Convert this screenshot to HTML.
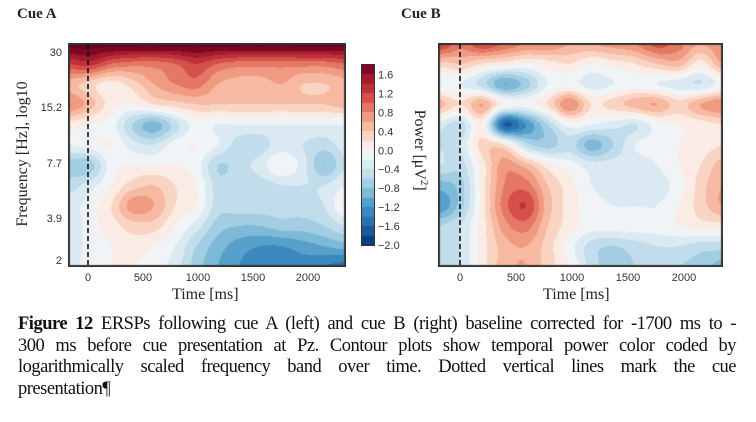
<!DOCTYPE html>
<html><head><meta charset="utf-8">
<style>
body{margin:0;width:756px;height:422px;background:#fff;position:relative;overflow:hidden;font-family:"Liberation Sans",sans-serif;}
.abs{position:absolute;}
.title{font-family:"Liberation Serif",serif;font-weight:bold;font-size:15px;color:#222;}
.axl{font-family:"Liberation Serif",serif;font-size:16px;color:#222;position:absolute;white-space:nowrap;}
#caption{position:absolute;left:18px;top:314px;width:718px;font-family:"Liberation Serif",serif;font-size:18.5px;line-height:21.5px;color:#111;letter-spacing:-0.5px;}
#caption div{text-align:justify;text-align-last:justify;white-space:nowrap;}
#caption div.last{text-align-last:left;}
canvas{position:absolute;}
</style></head><body>
<div class="abs title" style="left:17px;top:6px">Cue A</div>
<div class="abs title" style="left:401px;top:6px">Cue B</div>
<canvas id="cA" width="278" height="224" style="left:68px;top:43px"></canvas>
<canvas id="cB" width="285" height="224" style="left:438px;top:43px"></canvas>
<canvas id="cbar" width="12" height="180" style="left:362px;top:65px;outline:1px solid #333"></canvas>
<div class="axl" style="left:-62px;top:145px;transform:rotate(-90deg);width:170px;text-align:center">Frequency [Hz], log10</div>
<div class="axl" style="left:350px;top:140px;transform:rotate(90deg);width:140px;text-align:center">Power [μV<sup style="font-size:11px">2</sup>]</div>
<div class="axl" style="left:172px;top:286px">Time [ms]</div>
<div class="axl" style="left:543px;top:286px">Time [ms]</div>
<div id="caption">
<div><b>Figure 12</b> ERSPs following cue A (left) and cue B (right) baseline corrected for -1700 ms to -</div>
<div>300 ms before cue presentation at Pz. Contour plots show temporal power color coded by</div>
<div>logarithmically scaled frequency band over time. Dotted vertical lines mark the cue</div>
<div class="last">presentation¶</div>
</div>
<script>
const timeTicks=[0,500,1000,1500,2000];
const freqTicks=["30","15.2","7.7","3.9","2"];
const freqTickY=[52,107,163,218,260];
const cbarTicks=[1.6,1.2,0.8,0.4,0.0,-0.4,-0.8,-1.2,-1.6,-2.0];
const gridA=[
[1.9,1.9,1.9,1.9,1.9,1.9,1.9,1.9,1.9,1.9,1.9,1.9,1.9,1.9],
[1.2,1.3,1.0,0.9,0.9,1.0,1.2,1.0,0.9,0.9,0.9,0.9,0.9,1.0],
[0.5,0.3,0.1,0.3,0.6,0.8,0.9,0.6,0.5,0.5,0.6,0.4,0.4,0.5],
[0.8,0.5,0.1,0.0,0.2,0.3,0.4,0.4,0.4,0.4,0.4,0.4,0.4,0.5],
[0.1,0.0,-0.1,-0.6,-0.9,-0.5,-0.1,-0.2,-0.2,-0.2,-0.2,-0.2,-0.2,-0.2],
[-0.2,-0.1,0.0,-0.3,-0.4,-0.1,0.0,-0.2,-0.5,-0.5,-0.3,-0.4,-0.5,-0.3],
[-0.7,-0.7,-0.1,0.0,0.0,0.0,-0.1,-0.6,-0.5,-0.3,0.0,-0.3,-0.8,-0.4],
[-0.5,-0.3,0.0,0.3,0.4,0.2,0.0,-0.5,-0.5,-0.5,-0.4,-0.4,-0.4,-0.2],
[-0.3,-0.1,0.2,0.7,0.6,0.2,0.0,-0.5,-0.5,-0.5,-0.5,-0.5,-0.4,0.0],
[-0.4,-0.1,0.1,0.3,0.3,0.0,-0.3,-0.7,-0.8,-0.8,-0.7,-0.7,-0.6,-0.4],
[-0.4,-0.1,0.0,0.1,0.0,-0.2,-0.6,-0.9,-1.1,-1.2,-1.2,-1.1,-1.0,-0.9],
[-0.3,-0.1,0.0,0.0,-0.1,-0.3,-0.7,-1.0,-1.2,-1.3,-1.3,-1.3,-1.4,-1.5]];
const gridB=[
[1.3,0.9,1.2,1.0,0.8,0.8,0.6,0.6,0.7,0.8,1.1,0.9,0.6,0.8],
[0.3,0.4,0.2,0.1,0.0,0.1,0.2,0.0,0.1,0.2,0.4,0.5,0.1,0.6],
[-0.2,-0.2,-0.5,-1.0,-0.7,-0.2,-0.1,-0.3,-0.2,-0.1,-0.2,-0.3,-0.4,-0.1],
[0.5,0.2,0.6,0.0,-0.1,0.2,0.8,0.2,0.3,0.5,0.6,0.3,0.6,0.8],
[-0.3,-0.5,0.0,-1.6,-1.2,-0.6,-0.1,-0.2,-0.3,-0.4,-0.1,0.0,0.1,0.2],
[-0.4,-0.4,0.3,0.2,-0.5,-0.7,-0.5,-0.9,-0.6,-0.2,-0.1,0.0,0.1,0.2],
[-0.4,-0.5,0.1,0.7,0.5,0.1,-0.1,-0.3,-0.3,-0.3,-0.2,0.0,0.2,0.5],
[-0.9,-0.7,0.1,0.8,0.9,0.4,0.1,-0.2,-0.3,-0.3,-0.3,-0.1,0.3,0.6],
[-1.2,-0.7,0.1,0.9,1.2,0.5,0.1,-0.1,-0.2,-0.2,-0.2,0.0,0.3,0.6],
[-0.6,-0.4,0.1,0.7,0.9,0.4,0.1,-0.1,-0.1,-0.1,-0.1,0.0,0.1,0.1],
[-0.6,-0.4,0.1,0.5,0.6,0.3,-0.1,-0.5,-0.6,-0.5,-0.4,-0.4,-0.5,-0.5],
[-0.5,-0.4,0.1,0.5,0.6,0.3,0.0,-0.5,-0.7,-0.6,-0.5,-0.6,-0.7,-0.9]];

const stops=[[-2,[8,48,100]],[-1.6,[33,102,172]],[-1.2,[67,147,195]],[-0.8,[146,197,222]],[-0.4,[209,229,240]],[-0.1,[240,244,246]],[0.1,[250,236,228]],[0.4,[250,200,178]],[0.8,[236,140,112]],[1.2,[205,60,62]],[1.6,[150,16,40]],[1.8,[103,0,31]]];
function color(v){
  v=Math.floor(v/0.2)*0.2+0.1; v=Math.max(-2,Math.min(1.8,v));
  for(let i=0;i<stops.length-1;i++){const a=stops[i],b=stops[i+1];
    if(v<=b[0]){const t=(v-a[0])/(b[0]-a[0]);return a[1].map((c,k)=>Math.round(c+(b[1][k]-c)*t));}}
  return stops[stops.length-1][1];
}
function cr(p0,p1,p2,p3,t){return 0.5*(2*p1+(-p0+p2)*t+(2*p0-5*p1+4*p2-p3)*t*t+(-p0+3*p1-3*p2+p3)*t*t*t);}
function sample(grid,gx,gy){
  const R=grid.length,C=grid[0].length;
  const i=Math.min(Math.floor(gx),C-2),j=Math.min(Math.floor(gy),R-2);
  const fx=gx-i,fy=gy-j,rows=[];
  const g=(r,c)=>grid[Math.max(0,Math.min(R-1,r))][Math.max(0,Math.min(C-1,c))];
  for(let k=-1;k<3;k++)rows.push(cr(g(j+k,i-1),g(j+k,i),g(j+k,i+1),g(j+k,i+2),fx));
  return cr(rows[0],rows[1],rows[2],rows[3],fy);
}
function drawPanel(id,grid){
  const cv=document.getElementById(id),ctx=cv.getContext('2d'),W=cv.width,H=cv.height;
  const img=ctx.createImageData(W,H),R=grid.length,C=grid[0].length;
  for(let y=0;y<H;y++)for(let x=0;x<W;x++){
    const v=sample(grid,x/(W-1)*(C-1),y/(H-1)*(R-1));
    const c=color(v),p=(y*W+x)*4;img.data[p]=c[0];img.data[p+1]=c[1];img.data[p+2]=c[2];img.data[p+3]=255;}
  ctx.putImageData(img,0,0);
  ctx.strokeStyle='#333';ctx.lineWidth=2;ctx.strokeRect(1,1,W-2,H-2);
}
drawPanel('cA',gridA);drawPanel('cB',gridB);
(function(){const cv=document.getElementById('cbar'),ctx=cv.getContext('2d');
  for(let y=0;y<180;y++){const v=1.8-(y+0.5)/180*3.8;const c=color(v);ctx.fillStyle=`rgb(${c})`;ctx.fillRect(0,y,12,1);}})();
const svgNS='http://www.w3.org/2000/svg';
const sv=document.createElementNS(svgNS,'svg');
sv.setAttribute('width','756');sv.setAttribute('height','422');
sv.setAttribute('style','position:absolute;left:0;top:0');


document.body.appendChild(sv);
function xA(t){return 88+t*0.11;}
function xB(t){return 460+t*0.112;}
function tick(x,y,txt,name,anchor){
  const e=document.createElementNS(svgNS,'text');
  e.setAttribute('x',x);e.setAttribute('y',y);e.setAttribute('font-size','11');e.setAttribute('fill','#333');
  e.setAttribute('font-family','Liberation Sans, sans-serif');e.setAttribute('text-anchor',anchor);
  e.textContent=txt;
  
  
  sv.appendChild(e);
}
timeTicks.forEach(t=>{tick(xA(t),281,t,'x-tick-a','middle');tick(xB(t),281,t,'x-tick-b','middle');});
freqTicks.forEach((f,i)=>tick(62,freqTickY[i]+4,f,'y-tick','end'));
cbarTicks.forEach(v=>{const y=65+(1.8-v)/3.8*180;tick(378,y+4,(v<0?'\u2212':'')+Math.abs(v).toFixed(1),'colorbar-tick','start');});
function dash(x,name){const l=document.createElementNS(svgNS,'line');
  l.setAttribute('x1',x);l.setAttribute('x2',x);l.setAttribute('y1',44);l.setAttribute('y2',266);
  l.setAttribute('stroke','#111');l.setAttribute('stroke-width','1.6');l.setAttribute('stroke-dasharray','5,3');
  
  
  sv.appendChild(l);}
dash(xA(0),'cue-line-a');dash(xB(0),'cue-line-b');
</script>
</body></html>
